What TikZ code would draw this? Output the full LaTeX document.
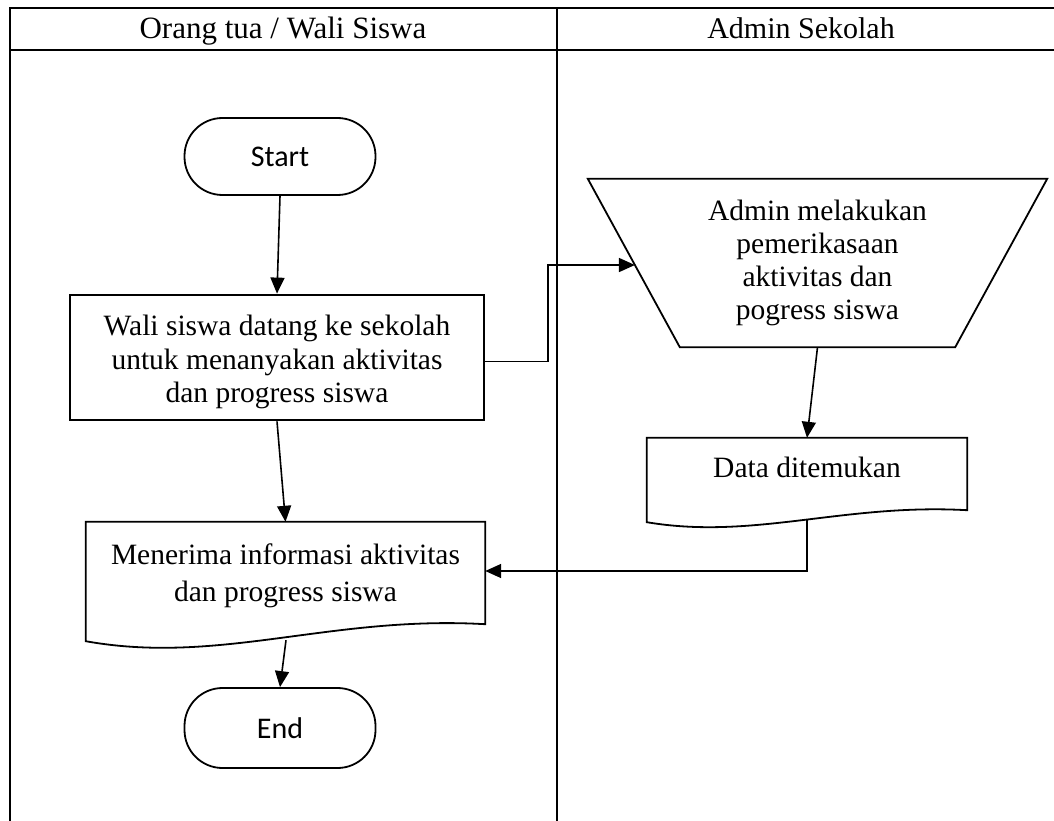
\documentclass[tikz,border=0pt]{standalone}
\usepackage{fontspec}
\setmainfont{Liberation Serif}
\newfontfamily\termfont{Carlito}
\usetikzlibrary{arrows.meta,calc}

\begin{document}
\begin{tikzpicture}[x=1pt,y=-1pt,
  lane/.style={line width=2.4pt},
  flow/.style={line width=1.6pt,-{Triangle[length=16pt,width=14pt]}},
  outline/.style={line width=1.8pt},
  txt/.style={font=\fontsize{29.5}{33.5}\selectfont, align=center, inner sep=0pt},
  head/.style={inner sep=0pt, anchor=base},
  terminal/.style={draw, line width=1.8pt, rounded corners=38pt, minimum width=191pt,
                   inner sep=0pt, font=\termfont\fontsize{30}{36}\selectfont},
  procbox/.style={draw, line width=2.8pt, minimum width=414pt, minimum height=125pt, inner sep=0pt},
  shapebox/.style={txt}
]
\useasboundingbox (0,0) rectangle (1054,821);

% swimlane table
\draw[lane] (1058,8) -- (10,8) -- (10,825);
\draw[lane] (10,50) -- (1058,50);
\draw[lane] (557,8) -- (557,825);
\node[head, font=\fontsize{31}{36}\selectfont] (hleft) at (283,39) {Orang tua / Wali Siswa};
\node[head, font=\fontsize{30}{36}\selectfont] (hright) at (801,39) {Admin Sekolah};

% left lane
\node[terminal, minimum height=77pt] (start) at (280,156.5) {Start};
\node[procbox] (proc) at (277,357.5) {};
\node[txt] (proctext) at (277,362)
  {Wali siswa datang ke sekolah\\untuk menanyakan aktivitas\\dan progress siswa};

\node[shapebox, minimum width=399pt, minimum height=108pt,
      font=\fontsize{29.5}{37}\selectfont] (terima) at (285.5,576)
  {Menerima informasi aktivitas\\dan progress siswa};
\draw[outline] (terima.north west) -- (terima.north east)
  -- ($(terima.south east)+(0,-6)$)
  .. controls +(-155,-9) and +(134,24) .. ($(terima.south west)+(0,11)$) -- cycle;
\coordinate (terimaout) at ($(terima.south)+(0.5,10)$);

\node[terminal, minimum height=80pt] (end) at (280,728) {End};

% right lane
\node[shapebox, minimum width=459pt, minimum height=168pt,
      font=\fontsize{29.5}{33}\selectfont] (check) at (817.5,263)
  {Admin melakukan\\pemerikasaan\\aktivitas dan\\pogress siswa};
\coordinate (cbl) at ($(check.south west)+(92,0)$);
\draw[outline] (check.north west) -- (check.north east)
  -- ($(check.south east)+(-92,0)$) -- (cbl) -- cycle;
\coordinate (checkin) at ($(check.north west)!0.512!(cbl)$);
\path (checkin) ++(-87,0) coordinate (bend);

\node[shapebox, minimum width=320pt, minimum height=58pt] (data) at (807,467)
  {Data ditemukan};
\draw[outline] (data.north west) -- (data.north east)
  -- ($(data.south east)+(0,14)$)
  .. controls +(-124,-7) and +(107,18) .. ($(data.south west)+(0,26)$) -- cycle;
\coordinate (dataout) at ($(data.south)+(0,24)$);

% connectors
\draw[flow] (start.south) -- (proc.north);
\draw[flow] (proc.south) -- (terima.north);
\draw[flow] ($(proc.east)+(0,4)$) -| (bend) -- (checkin);
\draw[flow] (check.south) -- (data.north);
\draw[flow] (dataout) |- ($(terima.east)+(0,-5)$);
\draw[flow] (terimaout) -- (end.north);
\end{tikzpicture}
\end{document}
